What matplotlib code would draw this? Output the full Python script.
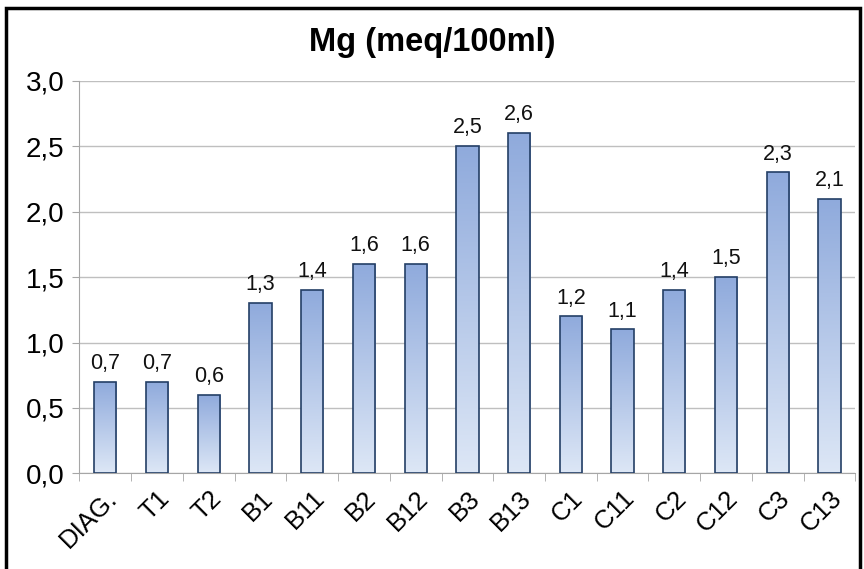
import numpy as np
import matplotlib
matplotlib.use("Agg")
import matplotlib.pyplot as plt
from matplotlib.patches import Rectangle
from matplotlib.colors import LinearSegmentedColormap

categories = ["DIAG.", "T1", "T2", "B1", "B11", "B2", "B12", "B3", "B13",
              "C1", "C11", "C2", "C12", "C3", "C13"]
values = [0.7, 0.7, 0.6, 1.3, 1.4, 1.6, 1.6, 2.5, 2.6,
          1.2, 1.1, 1.4, 1.5, 2.3, 2.1]
yticks = [0.0, 0.5, 1.0, 1.5, 2.0, 2.5, 3.0]

plt.rcParams['font.family'] = ['Liberation Sans', 'DejaVu Sans']

fig = plt.figure(figsize=(8.64, 5.69), dpi=100)
ax = fig.add_axes([0.092, 0.168, 0.898, 0.69])

x = np.arange(len(categories))
bars = ax.bar(x, values, width=0.43, facecolor='none', edgecolor='#243F66',
              linewidth=1.2, zorder=3)

# vertical gradient inside each bar
cmap = LinearSegmentedColormap.from_list('g', ['#DDE7F6', '#8FAADC'])
grad = np.linspace(0, 1, 256).reshape(-1, 1)
for b in bars:
    bx, by = b.get_x(), b.get_y()
    w, h = b.get_width(), b.get_height()
    im = ax.imshow(grad, cmap=cmap, aspect='auto', origin='lower',
                   extent=[bx, bx + w, by, by + h], zorder=2)
    im.set_clip_path(b)

for xi, v in zip(x, values):
    ax.text(xi, v + 0.06, f"{v:.1f}".replace('.', ','), ha='center',
            va='bottom', fontsize=15.5, color='#111111', zorder=4)

ax.set_xlim(-0.5, len(categories) - 0.5)
ax.set_ylim(0, 3.0)
ax.set_yticks(yticks)
ax.set_yticklabels([f"{t:.1f}".replace('.', ',') for t in yticks], fontsize=20)
ax.set_xticks(x)
ax.set_xticklabels(categories, rotation=45, ha='right', rotation_mode='anchor',
                   fontsize=18.5)
ax.tick_params(axis='x', length=0, pad=9)
ax.set_xticks(np.arange(-0.5, len(categories), 1), minor=True)
ax.tick_params(axis='x', which='minor', length=6, color='#A6A6A6')
ax.tick_params(axis='y', length=5, color='#A6A6A6', pad=6)
ax.yaxis.grid(True, color='#BFBFBF', linewidth=1, zorder=0)
ax.set_axisbelow(True)
for s in ['top', 'right']:
    ax.spines[s].set_visible(False)
ax.spines['left'].set_color('#A6A6A6')
ax.spines['bottom'].set_color('#A6A6A6')

fig.text(0.5, 0.925, "Mg (meq/100ml)", ha='center', va='center',
         fontsize=23.5, fontweight='bold')

# outer chart border
fig.add_artist(Rectangle((0.007, -0.05), 0.988, 1.036, transform=fig.transFigure,
                         fill=False, edgecolor='black', linewidth=2.5))

fig.savefig("out.png", dpi=100)
